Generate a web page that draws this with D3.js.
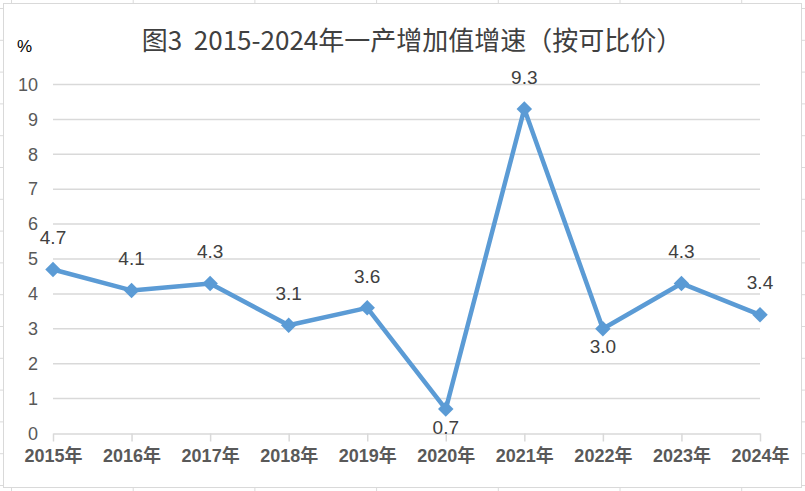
<!DOCTYPE html>
<html>
<head>
<meta charset="utf-8">
<script src="https://cdn.jsdelivr.net/npm/d3@7"></script>
<style>
  html, body { margin: 0; padding: 0; background: #fff; }
  svg { display: block; }
</style>
</head>
<body>
<svg id="chart" width="805" height="491"></svg>
<script>
// data
var years = ["2015年", "2016年", "2017年", "2018年", "2019年", "2020年", "2021年", "2022年", "2023年", "2024年"];
var growth = [4.7, 4.1, 4.3, 3.1, 3.6, 0.7, 9.3, 3.0, 4.3, 3.4];
var labelSide = ["above", "above", "above", "above", "above", "below", "above", "below", "above", "above"];
var yTicks = [0, 1, 2, 3, 4, 5, 6, 7, 8, 9, 10];
var title = "图3  2015-2024年一产增加值增速（按可比价）";

var W = 805, H = 491;
var svg = d3.select("#chart");
var gridColor = "#d9d9d9";
var textColor = "#595959";

// excel sheet behind the chart (only shows at the edges)
var sheet = svg.append("g").attr("stroke", "#dadada").attr("stroke-width", 1);
d3.range(11.5, W, 121.7).forEach(function(x) {
    sheet.append("line").attr("x1", x).attr("x2", x).attr("y1", 0).attr("y2", H);
});
d3.range(8.5, H, 31.8).forEach(function(y) {
    sheet.append("line").attr("x1", 0).attr("x2", W).attr("y1", y).attr("y2", y);
});

// chart area
svg.append("rect")
    .attr("x", 3.5).attr("y", 3.5)
    .attr("width", 798).attr("height", 484)
    .attr("fill", "#fff")
    .attr("stroke", "#d9d9d9")
    .attr("stroke-width", 1);

var x = d3.scalePoint().domain(years).range([53, 760]);
var y = d3.scaleLinear().domain([0, 10]).range([433.5, 84.5]);

// gridlines
svg.append("g")
    .selectAll("line")
    .data(yTicks.filter(function(d) { return d > 0; }))
    .join("line")
    .attr("x1", x.range()[0]).attr("x2", x.range()[1])
    .attr("y1", function(d) { return y(d); })
    .attr("y2", function(d) { return y(d); })
    .attr("stroke", gridColor)
    .attr("stroke-width", 1.5);

// y axis labels
var yAxis = d3.axisLeft(y).tickValues(yTicks).tickSize(0).tickPadding(0);
var yg = svg.append("g").attr("transform", "translate(38,0)").call(yAxis);
yg.select(".domain").remove();
yg.selectAll("text")
    .attr("fill", textColor)
    .style("font-family", "'Liberation Sans', Arial, sans-serif")
    .style("font-size", "18px");

// x axis
var xAxis = d3.axisBottom(x).tickSize(8).tickPadding(8).tickSizeOuter(0);
var xg = svg.append("g").attr("transform", "translate(0," + y(0) + ")").call(xAxis);
xg.select(".domain").attr("stroke", gridColor).attr("stroke-width", 1.5);
xg.selectAll(".tick line").attr("stroke", gridColor).attr("stroke-width", 1.5);
xg.selectAll("text")
    .attr("fill", textColor)
    .style("font-family", "'Liberation Sans', 'Noto Sans CJK SC', sans-serif")
    .style("font-weight", "bold")
    .style("font-size", "18px");

// line
var line = d3.line()
    .x(function(d, i) { return x(years[i]); })
    .y(function(d) { return y(d); });

svg.append("path")
    .datum(growth)
    .attr("d", line)
    .attr("fill", "none")
    .attr("stroke", "#5b9bd5")
    .attr("stroke-width", 4.5)
    .attr("stroke-linejoin", "round");

// diamond markers
var diamond = d3.symbol().type(d3.symbolSquare).size(120);
svg.append("g")
    .selectAll("path")
    .data(growth)
    .join("path")
    .attr("d", diamond)
    .attr("transform", function(d, i) {
        return "translate(" + x(years[i]) + "," + y(d) + ") rotate(45)";
    })
    .attr("fill", "#5b9bd5");

// data labels
svg.append("g")
    .selectAll("text")
    .data(growth)
    .join("text")
    .attr("x", function(d, i) { return x(years[i]); })
    .attr("y", function(d, i) {
        return labelSide[i] === "above" ? y(d) - 32 : y(d) + 18;
    })
    .attr("dy", "0.35em")
    .attr("text-anchor", "middle")
    .attr("fill", "#404040")
    .style("font-family", "'Liberation Sans', Arial, sans-serif")
    .style("font-size", "19px")
    .text(function(d) { return d.toFixed(1); });

// unit
svg.append("text")
    .attr("x", 17).attr("y", 52)
    .attr("fill", "#000")
    .style("font-family", "'Liberation Sans', Arial, sans-serif")
    .style("font-size", "17px")
    .text("%");

// title
svg.append("text")
    .attr("x", 412).attr("y", 50)
    .attr("text-anchor", "middle")
    .attr("fill", "#404040")
    .style("white-space", "pre")
    .style("font-family", "'Noto Sans CJK SC', sans-serif")
    .style("font-size", "26px")
    .text(title);
</script>
</body>
</html>
